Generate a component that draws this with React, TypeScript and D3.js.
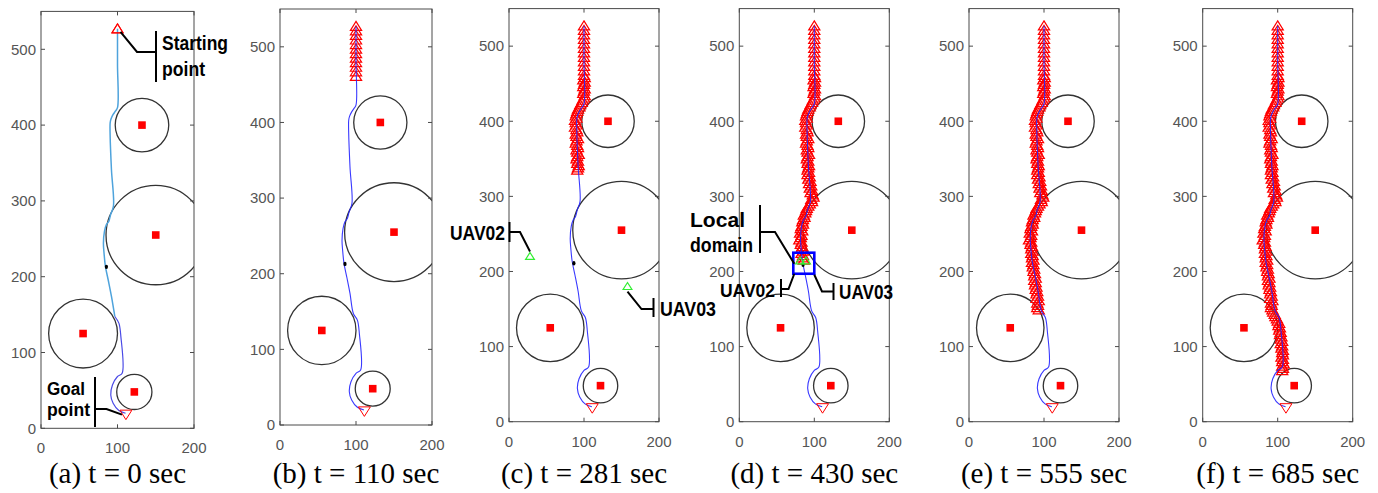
import React from "react";
import * as d3 from "d3";

const W = 1378;
const H = 493;

// Map extent (m)
const xDomain = [0, 200];
const yDomain = [0, 550];
const xTicks = [0, 100, 200];
const yTicks = [0, 100, 200, 300, 400, 500];

// Circular no-fly obstacles
const obstacleX = [132, 150, 55, 122];
const obstacleY = [400, 255, 125, 48];
const obstacleR = [35, 65, 45, 23];

const startPoint = [100, 527];
const goalPoint = [111, 18];

// Planned route from start to goal
const pathX = [100, 100, 100, 97, 94.3, 91.5, 90.4, 90.4, 92.1, 94.7, 91, 88.6, 85.5, 83, 81.6, 82.5, 84.2, 88, 92.1, 96.5, 101.8, 104.4, 106.1, 100, 93.4, 91.2, 94.3, 101.8, 110.5];
const pathY = [527, 480, 423, 418, 414, 408, 403, 385, 341, 293, 282, 273, 268.6, 260, 244, 230, 213.6, 195, 174, 147.5, 138.7, 121, 72.7, 68.3, 57.2, 44, 33, 23.4, 19.8];

// Recorded positions of UAV01 (oldest first)
const trailX = [
  100, 100, 100, 100, 100, 100, 100, 100, 100, 100, 100, 100,
  101, 99, 101, 100, 99, 101, 100, 99, 101, 100,
  98, 97, 95, 94, 92,
  91, 90, 89, 90, 88, 89, 90,
  88, 90, 91, 89, 90, 92, 90, 89, 91, 92, 90, 91, 93, 91, 90, 92, 91, 93, 92, 91,
  93, 91, 94, 92, 95, 93, 96, 94, 97, 95, 98,
  99, 96, 97, 94, 92, 90, 89,
  88, 86, 87, 85, 84, 85, 83,
  82, 84, 81, 83, 82, 80, 83,
  82, 84, 83, 85, 83, 85, 84, 86,
  84, 86, 85, 87, 86, 88, 87, 89,
  87, 89, 88, 90, 89, 91, 90,
  92, 90, 93, 91, 92, 91, 93,
  94, 96, 97, 99, 100, 102, 101,
  103, 102, 104, 103, 105, 104, 106, 104, 106,
  105, 107, 106, 107, 105, 107, 106, 108, 106, 107, 106,
];
const trailY = [
  527, 521, 515, 509, 503, 497, 491, 485, 479, 473, 467, 461,
  458, 455, 452, 449, 446, 443, 440, 437, 434, 431,
  428, 425, 422, 419, 416,
  413, 410, 407, 404, 401, 398, 395,
  392, 389, 386, 383, 380, 377, 374, 371, 368, 365, 362, 359, 356, 353, 350, 347, 344, 341, 338, 335,
  332, 329, 326, 323, 320, 317, 314, 311, 308, 305, 302,
  299, 296, 293, 290, 287, 284, 281,
  278, 275, 272, 269, 266, 263, 260,
  257, 254, 251, 248, 245, 242, 239,
  236, 233, 230, 227, 224, 221, 218, 215,
  212, 209, 206, 203, 200, 197, 194, 191,
  188, 185, 182, 179, 176, 173, 170,
  167, 164, 161, 158, 155, 152, 149,
  146, 143, 140, 137, 134, 131, 128,
  125, 122, 119, 116, 113, 110, 107, 104, 101,
  98, 95, 92, 89, 86, 83, 80, 77, 74, 71, 68,
];

// Snapshot captions and how many recorded positions exist at each time
const panelLabels = ["(a) t = 0 sec", "(b) t = 110 sec", "(c) t = 281 sec", "(d) t = 430 sec", "(e) t = 555 sec", "(f) t = 685 sec"];
const panelTrailCount = [1, 12, 54, 94, 116, 143];

// Waypoint marker on the route
const waypointX = [85.5, 85.5, 86.5, 85];
const waypointY = [213, 213, 211, 209];
const waypointPanel = [0, 1, 2, 3];

// Wingmen UAV02 / UAV03
const wingPanel = [2, 2, 3, 3];
const wingX = [28, 158, 81, 89];
const wingY = [220, 180, 214, 214];

// Local domain box around the rendezvous (panel d)
const localX = [72, 100];
const localY = [197, 225];

// Axes frames on the page
const frames = [
  { left: 41, right: 194, bottom: 428.3, top: 11.4 },
  { left: 280, right: 432, bottom: 425, top: 9 },
  { left: 509, right: 659, bottom: 421.7, top: 8.6 },
  { left: 739.3, right: 889.3, bottom: 421.7, top: 8.6 },
  { left: 969, right: 1119, bottom: 421.7, top: 8.6 },
  { left: 1202.7, right: 1352.7, bottom: 421.7, top: 8.6 },
];

const FRAME = "#4a4a4a";
const TICK_TEXT = "#555555";
const RED = "#ff0000";
const BLUE = "#2323ff";
const SKY = "#4ea3dc";
const GREEN = "#33ee33";
const SANS = "'Liberation Sans', Arial, Helvetica, sans-serif";
const NARROW = "'Liberation Sans Narrow', 'Liberation Sans', Arial, sans-serif";
const SERIF = "'Liberation Serif', 'Times New Roman', Times, serif";

const triUp = "M0,-5L5.6,4L-5.6,4Z";
const triDown = "M0,5L6,-4.5L-6,-4.5Z";
const triSmall = "M0,-4L4.4,3L-4.4,3Z";

type Line = { text: string; y: number; width: number };

// Bold condensed callout text; several lines share one text element
function Label({ x, lines, size = 20 }: { x: number; lines: Line[]; size?: number }) {
  return (
    <text fontFamily={NARROW} fontWeight="bold" fontSize={size} fill="#000">
      {lines.map((l, i) => (
        <tspan key={i} x={x} y={l.y} textLength={l.width} lengthAdjust="spacingAndGlyphs">{l.text}</tspan>
      ))}
    </text>
  );
}

function Leader({ pts }: { pts: number[][] }) {
  return <polyline points={pts.map((p) => p.join(",")).join(" ")} fill="none" stroke="#000" strokeWidth={2} />;
}

function Panel({ idx }: { idx: number }) {
  const f = frames[idx];
  const x = d3.scaleLinear().domain(xDomain).range([f.left, f.right]);
  const y = d3.scaleLinear().domain(yDomain).range([f.bottom, f.top]);
  const clipId = `clip-${idx}`;

  const pts = pathX.map((v, i) => [v, pathY[i]] as [number, number]);
  const line = d3.line<[number, number]>().x((d) => x(d[0])).y((d) => y(d[1])).curve(d3.curveCatmullRom.alpha(0.5));

  const n = panelTrailCount[idx];
  const trail = trailX.slice(0, n).map((v, i) => [v, trailY[i]]);

  // Panel (a) shows the route in two shades: upper leg and final approach
  const splitAt = pathY.findIndex((v) => v < 150);
  const upper = pts.slice(0, splitAt + 1);
  const lower = pts.slice(splitAt);

  const tickLen = 4;

  return (
    <g>
      <defs>
        <clipPath id={clipId}>
          <rect x={f.left} y={f.top} width={f.right - f.left} height={f.bottom - f.top} />
        </clipPath>
      </defs>
      <g clipPath={`url(#${clipId})`}>
        {obstacleX.map((ox, i) => (
          <circle key={`o${i}`} cx={x(ox)} cy={y(obstacleY[i])} r={x(obstacleR[i]) - x(0)}
            fill="none" stroke="#333" strokeWidth={1.3} />
        ))}
        {obstacleX.map((ox, i) => (
          <rect key={`c${i}`} x={x(ox) - 3.8} y={y(obstacleY[i]) - 3.8} width={7.6} height={7.6} fill={RED} />
        ))}
        {idx === 0 ? (
          <g>
            <path d={line(upper) || ""} fill="none" stroke={SKY} strokeWidth={1.5} />
            <path d={line(lower) || ""} fill="none" stroke="#4a4ae6" strokeWidth={1.2} />
          </g>
        ) : null}
        {trail.map((p, i) => (
          <path key={`t${i}`} d={triUp} transform={`translate(${x(p[0])},${y(p[1])})`}
            fill="none" stroke={RED} strokeWidth={1.2} />
        ))}
        {idx > 0 ? <path d={line(pts) || ""} fill="none" stroke={BLUE} strokeWidth={1.1} strokeOpacity={0.9} /> : null}
        {waypointPanel.map((p, i) => p === idx ? (
          <ellipse key={`w${i}`} cx={x(waypointX[i])} cy={y(waypointY[i])} rx={1.6} ry={2.2} fill="#000" />
        ) : null)}
        {wingPanel.map((p, i) => p === idx ? (
          <path key={`g${i}`} d={triSmall} transform={`translate(${x(wingX[i])},${y(wingY[i])})`}
            fill="none" stroke={GREEN} strokeWidth={1.2} />
        ) : null)}
        {idx === 3 ? (
          <rect x={x(localX[0])} y={y(localY[1])} width={x(localX[1]) - x(localX[0])}
            height={y(localY[0]) - y(localY[1])} fill="none" stroke="#0000ff" strokeWidth={2.6} />
        ) : null}
        {idx === 0 ? (
          <path d={triUp} transform={`translate(${x(startPoint[0])},${y(startPoint[1])})`} fill="none" stroke={RED} strokeWidth={1} />
        ) : null}
        <path d={triDown} transform={`translate(${x(goalPoint[0])},${y(goalPoint[1])})`} fill="none" stroke={RED} strokeWidth={1} />
      </g>

      {/* axes box with mirrored inward ticks */}
      <rect x={f.left} y={f.top} width={f.right - f.left} height={f.bottom - f.top} fill="none" stroke={FRAME} strokeWidth={1} />
      {xTicks.map((t) => (
        <g key={`xt${t}`}>
          <line x1={x(t)} x2={x(t)} y1={f.bottom} y2={f.bottom - tickLen} stroke={FRAME} />
          <line x1={x(t)} x2={x(t)} y1={f.top} y2={f.top + tickLen} stroke={FRAME} />
          <text x={x(t)} y={f.bottom + 25} textAnchor="middle" fontFamily={SANS} fontSize={15} fill={TICK_TEXT}>{t}</text>
        </g>
      ))}
      {yTicks.map((t) => (
        <g key={`yt${t}`}>
          <line x1={f.left} x2={f.left + tickLen} y1={y(t)} y2={y(t)} stroke={FRAME} />
          <line x1={f.right} x2={f.right - tickLen} y1={y(t)} y2={y(t)} stroke={FRAME} />
          <text x={f.left - 5} y={y(t) + 5.3} textAnchor="end" fontFamily={SANS} fontSize={15} fill={TICK_TEXT}>{t}</text>
        </g>
      ))}
      <text x={(f.left + f.right) / 2} y={483} textAnchor="middle" fontFamily={SERIF} fontSize={29} fill="#000">
        {panelLabels[idx]}
      </text>
    </g>
  );
}

export default function App() {
  const fa = frames[0];
  const xa = d3.scaleLinear().domain(xDomain).range([fa.left, fa.right]);
  const ya = d3.scaleLinear().domain(yDomain).range([fa.bottom, fa.top]);
  const fc = frames[2];
  const xc = d3.scaleLinear().domain(xDomain).range([fc.left, fc.right]);
  const yc = d3.scaleLinear().domain(yDomain).range([fc.bottom, fc.top]);
  const fd = frames[3];
  const xd = d3.scaleLinear().domain(xDomain).range([fd.left, fd.right]);
  const yd = d3.scaleLinear().domain(yDomain).range([fd.bottom, fd.top]);

  const sx = xa(startPoint[0]) + 3;
  const sy = ya(startPoint[1]) + 3;
  const gx = xa(goalPoint[0]) - 4;
  const gy = ya(goalPoint[1]);
  const w2x = xc(wingX[0]);
  const w2y = yc(wingY[0]) - 5;
  const w3x = xc(wingX[1]);
  const w3y = yc(wingY[1]) + 5;
  const boxL = xd(localX[0]);
  const boxR = xd(localX[1]);
  const boxB = yd(localY[0]);

  return (
    <svg width={W} height={H} style={{ position: "absolute", left: 0, top: 0, background: "#fff" }}>
      <rect x={0} y={0} width={W} height={H} fill="#fff" />
      {frames.map((_, i) => <Panel key={i} idx={i} />)}

      {/* (a) start / goal callouts */}
      <Leader pts={[[156, 31], [156, 82]]} />
      <Leader pts={[[156, 52], [137, 52], [sx, sy]]} />
      <Label x={162} lines={[{ text: "Starting", y: 50, width: 66 }, { text: "point", y: 76, width: 43 }]} size={21} />

      <Leader pts={[[95, 377], [95, 427]]} />
      <Leader pts={[[95, 409], [106.5, 409], [gx, gy]]} />
      <Label x={47} lines={[{ text: "Goal", y: 395, width: 38 }, { text: "point", y: 416, width: 43 }]} size={18} />

      {/* (c) wingmen callouts */}
      <Leader pts={[[509.5, 222], [509.5, 242]]} />
      <Leader pts={[[509.5, 232], [520, 232], [w2x, w2y]]} />
      <Label x={450} lines={[{ text: "UAV02", y: 239.5, width: 55 }]} />

      <Leader pts={[[653.5, 298], [653.5, 317]]} />
      <Leader pts={[[653.5, 309], [641.5, 309], [w3x, w3y]]} />
      <Label x={660} lines={[{ text: "UAV03", y: 316, width: 56 }]} />

      {/* (d) local domain callouts */}
      <Leader pts={[[760, 205], [760, 253]]} />
      <Leader pts={[[760, 232], [775, 232], [boxL + 1, boxB - 10]]} />
      <Label x={690} lines={[{ text: "Local", y: 227, width: 55 }, { text: "domain", y: 252, width: 63 }]} />

      <Leader pts={[[781, 279], [781, 297]]} />
      <Leader pts={[[781, 289], [788.5, 289], [boxL + 1, boxB]]} />
      <Label x={720} lines={[{ text: "UAV02", y: 297, width: 55 }]} size={18} />

      <Leader pts={[[833.5, 283], [833.5, 300]]} />
      <Leader pts={[[833.5, 291.5], [822, 291.5], [boxR, boxB + 1]]} />
      <Label x={839} lines={[{ text: "UAV03", y: 299, width: 54 }]} />
    </svg>
  );
}
